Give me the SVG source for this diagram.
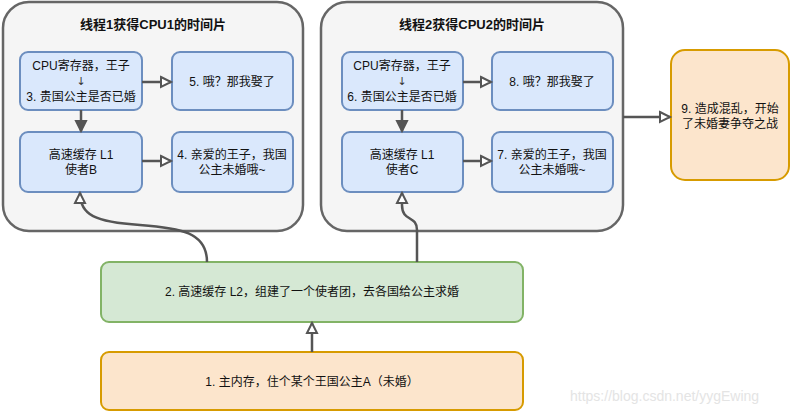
<svg xmlns="http://www.w3.org/2000/svg" width="792" height="412" viewBox="0 0 792 412">
<style>
text{font-family:"Liberation Sans","Noto Sans CJK SC",sans-serif;font-size:12px;fill:#111;text-anchor:middle}
.title{font-weight:bold;font-size:13px}
.dn{font-family:"DejaVu Sans",sans-serif;font-size:11px;fill:#333}
.cont{fill:#f5f5f5;stroke:#666;stroke-width:2.5}
.blue{fill:#dae8fc;stroke:#6c8ebf;stroke-width:2}
.green{fill:#d5e8d4;stroke:#82b366;stroke-width:2}
.orange{fill:#fce5cc;stroke:#d79b00;stroke-width:2}
.edge{fill:none;stroke:#555;stroke-width:2.5}
.wm{fill:#e4e4e4;font-size:14px;text-anchor:start}
</style>
<defs>
<marker id="arr" markerUnits="userSpaceOnUse" markerWidth="14" markerHeight="14" refX="11" refY="6" orient="auto" viewBox="0 0 14 12">
<path d="M1,1 L11,6 L1,11 Z" fill="#fff" stroke="#555" stroke-width="2"/>
</marker>
<marker id="arrd" markerUnits="userSpaceOnUse" markerWidth="14" markerHeight="14" refX="11" refY="6" orient="auto" viewBox="0 0 14 12">
<path d="M1,1 L11,6 L1,11 Z" fill="#555" stroke="#555" stroke-width="2"/>
</marker>
</defs>
<g id="container1">
<rect class="cont" x="3" y="2" width="300" height="229" rx="26"/>
<text class="title" x="153" y="29">线程1获得CPU1的时间片</text>
</g>
<g id="container2">
<rect class="cont" x="321" y="2" width="302" height="229" rx="26"/>
<text class="title" x="472" y="29">线程2获得CPU2的时间片</text>
</g>
<g id="n-cpu1">
<rect class="blue" x="20" y="52" width="122" height="58" rx="8"/>
<text x="81" y="70">CPU寄存器，王子</text>
<text class="dn" x="81" y="85">↓</text>
<text x="81" y="101">3. 贵国公主是否已婚</text>
</g>
<g id="n5">
<rect class="blue" x="172" y="52" width="121" height="58" rx="8"/>
<text x="232" y="86">5. 哦？那我娶了</text>
</g>
<g id="n-l1b">
<rect class="blue" x="20" y="132" width="122" height="60" rx="8"/>
<text x="81" y="159">高速缓存 L1</text>
<text x="81" y="174">使者B</text>
</g>
<g id="n4">
<rect class="blue" x="172" y="132" width="121" height="60" rx="8"/>
<text x="232" y="159">4. 亲爱的王子，我国</text>
<text x="232" y="174">公主未婚哦~</text>
</g>
<g id="n-cpu2">
<rect class="blue" x="342" y="52" width="121" height="58" rx="8"/>
<text x="402" y="70">CPU寄存器，王子</text>
<text class="dn" x="402" y="85">↓</text>
<text x="402" y="101">6. 贵国公主是否已婚</text>
</g>
<g id="n8">
<rect class="blue" x="492" y="52" width="121" height="58" rx="8"/>
<text x="552" y="86">8. 哦？那我娶了</text>
</g>
<g id="n-l1c">
<rect class="blue" x="342" y="132" width="121" height="60" rx="8"/>
<text x="402" y="159">高速缓存 L1</text>
<text x="402" y="174">使者C</text>
</g>
<g id="n7">
<rect class="blue" x="492" y="132" width="121" height="60" rx="8"/>
<text x="552" y="159">7. 亲爱的王子，我国</text>
<text x="552" y="174">公主未婚哦~</text>
</g>
<g id="n9">
<rect class="orange" x="671" y="50" width="118" height="130" rx="14"/>
<text x="730" y="113">9. 造成混乱，开始</text>
<text x="730" y="128">了未婚妻争夺之战</text>
</g>
<g id="n2">
<rect class="green" x="101" y="262" width="422" height="60" rx="8"/>
<text x="312" y="296">2. 高速缓存 L2，组建了一个使者团，去各国给公主求婚</text>
</g>
<g id="n1">
<rect class="orange" x="101" y="352" width="422" height="58" rx="8"/>
<text x="312" y="386">1. 主内存，住个某个王国公主A（未婚）</text>
</g>
<g id="connectors">
<path class="edge" d="M142,82 L171,82" marker-end="url(#arr)"/>
<path class="edge" d="M142,161 L171,161" marker-end="url(#arr)"/>
<path class="edge" d="M463,82 L491,82" marker-end="url(#arr)"/>
<path class="edge" d="M463,161 L491,161" marker-end="url(#arr)"/>
<path class="edge" d="M81,110 L81,131" marker-end="url(#arrd)"/>
<path class="edge" d="M402,110 L402,131" marker-end="url(#arrd)"/>
<path class="edge" d="M623,117 L670,117" marker-end="url(#arr)"/>
<path class="edge" d="M312,352 L312,323" marker-end="url(#arr)"/>
<path class="edge" d="M207,262 C207,232 180,228 140,225 C95,222 80,215 80,193" marker-end="url(#arr)"/>
<path class="edge" d="M417,262 L417,230 C417,215 402,222 402,205 L402,193" marker-end="url(#arr)"/>
</g>
<text class="wm" x="570" y="401">https://blog.csdn.net/yygEwing</text>
</svg>
